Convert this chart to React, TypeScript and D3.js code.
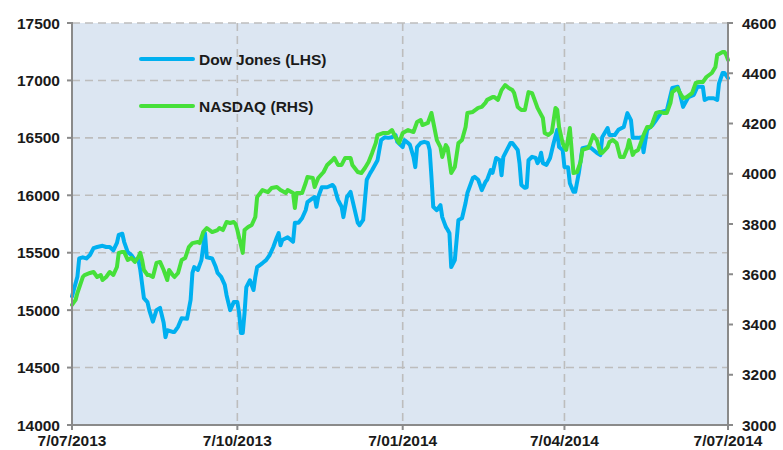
import React from "react";
import * as d3 from "d3";

// Dates are stored as days after 7 Jul 2013
const startDate = new Date(2013, 6, 7);

const dowDay = [0,3,4,6,8,10,12,14,17,19,21,23,25,26,28,29,31,33,35,37,38,40,42,43,45,47,49,51,52,53,56,57,59,61,64,66,67,68,70,72,74,75,78,80,81,83,85,86,88,90,92,93,94,95,96,97,99,101,102,103,106,108,110,112,114,115,116,117,120,123,124,126,128,130,131,134,135,136,137,139,142,145,146,148,150,151,153,155,156,159,160,162,164,166,167,170,171,172,174,176,178,180,181,184,185,187,188,190,191,192,194,196,198,199,200,201,203,205,206,208,209,210,211,213,215,217,219,220,223,224,226,228,230,231,233,234,236,238,239,240,242,244,245,248,249,250,252,253,254,256,258,259,260,261,262,264,266,268,270,271,273,274,276,277,279,280,282,284,287,289,292,294,295,298,299,302,304,307,309,311,312,315,317,318,320,323,325,328,331,334,337,338,340,343,346,348,351,352,354,357,359,360,362,363,365];
const dowValue = [15120,15290,15450,15460,15450,15480,15540,15550,15560,15550,15550,15520,15585,15655,15665,15595,15505,15480,15435,15435,15350,15105,15070,15000,14900,15000,15020,14890,14765,14825,14810,14810,14855,14930,14925,15090,15325,15375,15350,15435,15670,15460,15450,15375,15325,15290,15220,15130,15000,15070,15070,14975,14800,14800,14975,15200,15260,15175,15290,15375,15410,15435,15480,15550,15635,15670,15565,15610,15635,15595,15760,15760,15800,15870,15940,15975,15985,15900,15985,16070,16070,16090,16070,15960,15900,15810,15985,16030,15960,15760,15740,15785,16135,16195,16220,16305,16395,16480,16505,16500,16505,16525,16465,16420,16480,16455,16440,16335,16245,16420,16455,16465,16455,16395,16160,15900,15870,15915,15810,15725,15700,15670,15375,15435,15785,15800,15935,16020,16150,16160,16135,16045,16115,16135,16220,16195,16325,16305,16175,16335,16395,16455,16455,16395,16280,16090,16065,16070,16305,16335,16325,16280,16305,16370,16280,16265,16325,16455,16570,16420,16395,16245,16245,16105,16030,16030,16195,16410,16420,16410,16370,16350,16505,16585,16525,16525,16570,16595,16715,16655,16500,16500,16505,16375,16570,16610,16655,16725,16740,16935,16945,16900,16770,16855,16875,16945,16945,16830,16845,16845,16830,16975,17065,17065,17020];

const nasdaqDay = [0,2,3,6,7,10,12,14,16,17,19,21,23,25,26,28,29,31,33,35,37,38,39,40,42,43,45,47,49,51,53,54,56,57,59,61,63,65,67,70,71,73,75,78,81,82,84,86,88,90,91,92,95,96,98,100,102,103,106,109,111,114,116,119,120,123,124,125,128,130,131,134,135,137,140,142,145,146,148,150,152,155,156,159,161,163,165,167,169,170,173,176,178,180,182,184,187,190,192,194,195,198,200,201,203,205,206,208,209,211,213,215,217,219,220,223,226,228,230,231,234,235,237,239,241,243,245,246,248,250,252,254,256,258,259,262,263,265,267,269,270,271,273,274,275,277,278,279,281,283,284,287,288,290,292,294,295,298,299,301,303,305,307,309,310,312,313,315,316,318,320,322,323,325,327,329,331,333,334,337,338,340,342,345,347,349,351,353,356,358,359,362,363,364,365];
const nasdaqValue = [3478,3498,3525,3589,3597,3605,3609,3589,3597,3577,3589,3609,3597,3629,3685,3689,3689,3657,3665,3649,3669,3685,3657,3617,3597,3597,3589,3645,3649,3617,3577,3617,3597,3589,3605,3657,3665,3708,3724,3728,3724,3768,3784,3768,3776,3784,3776,3808,3804,3808,3800,3776,3685,3776,3788,3796,3828,3907,3935,3927,3943,3947,3935,3923,3935,3923,3864,3923,3923,3963,3987,3983,3947,3983,4007,4035,4055,4063,4035,4035,4063,4063,4035,4007,4003,4023,4047,4083,4122,4154,4162,4162,4174,4146,4122,4162,4174,4166,4206,4214,4194,4202,4242,4206,4134,4106,4067,4114,4102,4003,4027,4122,4134,4186,4242,4246,4262,4266,4282,4294,4305,4305,4294,4333,4353,4341,4333,4321,4266,4254,4254,4325,4321,4282,4262,4222,4162,4154,4166,4262,4254,4186,4122,4106,4095,4182,4095,4003,4007,4047,4095,4102,4114,4154,4134,4083,4083,4106,4126,4134,4122,4067,4067,4102,4134,4075,4087,4095,4114,4154,4186,4186,4202,4242,4246,4242,4242,4282,4325,4341,4325,4301,4305,4321,4361,4365,4365,4385,4401,4425,4473,4485,4485,4473,4453];

const leftTicks = [14000,14500,15000,15500,16000,16500,17000,17500];
const rightTicks = [3000,3200,3400,3600,3800,4000,4200,4400,4600];
const xTickDates = ["2013-07-07","2013-10-07","2014-01-07","2014-04-07","2014-07-07"];
const xTickLabels = ["7/07/2013","7/10/2013","7/01/2014","7/04/2014","7/07/2014"];
const seriesNames = ["Dow Jones (LHS)", "NASDAQ (RHS)"];

const W = 783, H = 450;
const L = 72, R = 728, T = 23, B = 425;
const FONT = "'Liberation Sans', Arial, sans-serif";
const BLUE = "#00b0f0";
const GREEN = "#46e03a";
const GRID = "#bdbdbd";
const AXIS = "#8a8a8a";

const parse = (s: string) => {
  const [y, m, d] = s.split("-").map(Number);
  return new Date(y, m - 1, d);
};

export default function App() {
  const x = d3.scaleTime().domain([parse(xTickDates[0]), parse(xTickDates[4])]).range([L, R]);
  const yL = d3.scaleLinear().domain([14000, 17500]).range([B, T]);
  const yR = d3.scaleLinear().domain([3000, 4600]).range([B, T]);

  const dow = dowDay.map((d, i) => ({ date: d3.timeDay.offset(startDate, d), v: dowValue[i] }));
  const nas = nasdaqDay.map((d, i) => ({ date: d3.timeDay.offset(startDate, d), v: nasdaqValue[i] }));

  const dowLine = d3.line<{ date: Date; v: number }>().x(d => x(d.date)).y(d => yL(d.v));
  const nasLine = d3.line<{ date: Date; v: number }>().x(d => x(d.date)).y(d => yR(d.v));

  return (
    <svg width={W} height={H} style={{ position: "absolute", left: 0, top: 0 }} fontFamily={FONT}>
      <rect x={0} y={0} width={W} height={H} fill="#ffffff" />
      <rect x={L} y={T} width={R - L} height={B - T} fill="#dce6f2" />
      {leftTicks.filter(t => t > 14000).map(t => (
        <line key={"hg" + t} x1={L} x2={R} y1={yL(t)} y2={yL(t)} stroke={GRID} strokeWidth={1.6} strokeDasharray="8,5" />
      ))}
      {xTickDates.slice(1, 4).map(s => (
        <line key={"vg" + s} x1={x(parse(s))} x2={x(parse(s))} y1={T} y2={B} stroke={GRID} strokeWidth={1.6} strokeDasharray="8,5" />
      ))}
      <path d={dowLine(dow) || ""} fill="none" stroke={BLUE} strokeWidth={4} strokeLinejoin="round" strokeLinecap="round" />
      <path d={nasLine(nas) || ""} fill="none" stroke={GREEN} strokeWidth={4} strokeLinejoin="round" strokeLinecap="round" />

      {/* axes */}
      <line x1={L} x2={L} y1={T - 1} y2={B} stroke={AXIS} strokeWidth={2} />
      <line x1={R} x2={R} y1={T - 1} y2={B} stroke={AXIS} strokeWidth={2} />
      <line x1={L} x2={R} y1={B} y2={B} stroke={AXIS} strokeWidth={2} />
      {leftTicks.map(t => (
        <g key={"lt" + t}>
          <line x1={L - 5} x2={L} y1={yL(t)} y2={yL(t)} stroke={AXIS} strokeWidth={2} />
          <text x={60} y={yL(t)} dy="0.36em" textAnchor="end" fontSize={15.5} fontWeight="bold" fill="#1a1a1a">{t}</text>
        </g>
      ))}
      {rightTicks.map(t => (
        <g key={"rt" + t}>
          <line x1={R} x2={R + 5} y1={yR(t)} y2={yR(t)} stroke={AXIS} strokeWidth={2} />
          <text x={742} y={yR(t)} dy="0.36em" textAnchor="start" fontSize={15.5} fontWeight="bold" fill="#1a1a1a">{t}</text>
        </g>
      ))}
      {xTickDates.map((s, i) => (
        <g key={"xt" + s}>
          <line x1={x(parse(s))} x2={x(parse(s))} y1={B} y2={B + 5} stroke={AXIS} strokeWidth={2} />
          <text x={x(parse(s))} y={446} textAnchor="middle" fontSize={15.5} fontWeight="bold" fill="#1a1a1a">{xTickLabels[i]}</text>
        </g>
      ))}

      {/* legend */}
      <line x1={141} x2={193} y1={59} y2={59} stroke={BLUE} strokeWidth={4} strokeLinecap="round" />
      <text x={199} y={59} dy="0.36em" fontSize={15.5} fontWeight="bold" fill="#1a1a1a">{seriesNames[0]}</text>
      <line x1={141} x2={193} y1={106} y2={106} stroke={GREEN} strokeWidth={4} strokeLinecap="round" />
      <text x={199} y={106} dy="0.36em" fontSize={15.5} fontWeight="bold" fill="#1a1a1a">{seriesNames[1]}</text>
    </svg>
  );
}
